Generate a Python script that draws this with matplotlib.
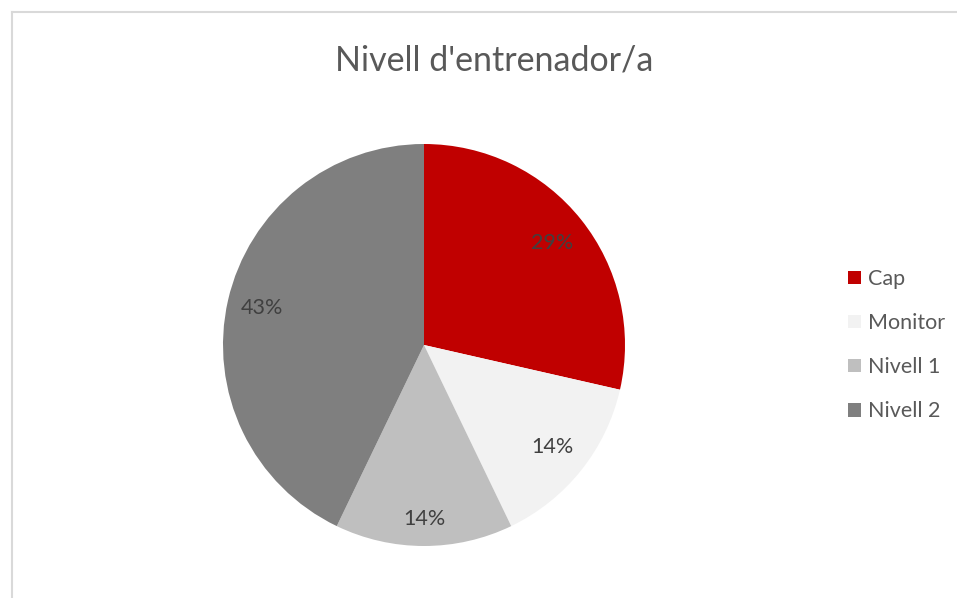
import matplotlib.pyplot as plt
from matplotlib.patches import Patch
from matplotlib.lines import Line2D
import numpy as np

plt.rcParams['font.family'] = ['Lato', 'DejaVu Sans']

categories = ['Cap', 'Monitor', 'Nivell 1', 'Nivell 2']
values = [2, 1, 1, 3]
colors = ['#C00000', '#F2F2F2', '#BFBFBF', '#7F7F7F']
title = "Nivell d'entrenador/a"
label_dist = [0.815, 0.815, 0.865, 0.825]

W, H = 957, 598
fig = plt.figure(figsize=(W / 100, H / 100), dpi=100)

# frame (only top and left edges visible in the reference)
fig.add_artist(Line2D([12 / W, 1], [1 - 12 / H, 1 - 12 / H], color='#D9D9D9', lw=1.5))
fig.add_artist(Line2D([12 / W, 12 / W], [0, 1 - 12 / H], color='#D9D9D9', lw=1.5))

ax = fig.add_axes([223 / W, (H - 546) / H, 402 / W, 402 / H])
wedges, texts, autotexts = ax.pie(values, colors=colors, startangle=90, counterclock=False,
                                  autopct='%1.0f%%', pctdistance=0.82,
                                  textprops={'color': '#404040', 'fontsize': 15.5})
# excel-like label placement
for w, t, d in zip(wedges, autotexts, label_dist):
    ang = np.deg2rad((w.theta1 + w.theta2) / 2)
    t.set_position((d * np.cos(ang), d * np.sin(ang)))
ax.set_xlim(-1, 1)
ax.set_ylim(-1, 1)
ax.set_aspect('auto')

fig.text(494 / W, 1 - 60 / H, title, ha='center', va='center', fontsize=24.5, color='#595959')

handles = [Patch(facecolor=c, edgecolor='none') for c in colors]
fig.legend(handles, categories, loc='upper left', bbox_to_anchor=(848 / W, 1 - 269 / H),
           frameon=False, fontsize=15.5, labelcolor='#595959', handlelength=0.6,
           handleheight=0.6, handletextpad=0.35, labelspacing=1.12,
           borderpad=0, borderaxespad=0)

fig.savefig('out.png', dpi=100)
